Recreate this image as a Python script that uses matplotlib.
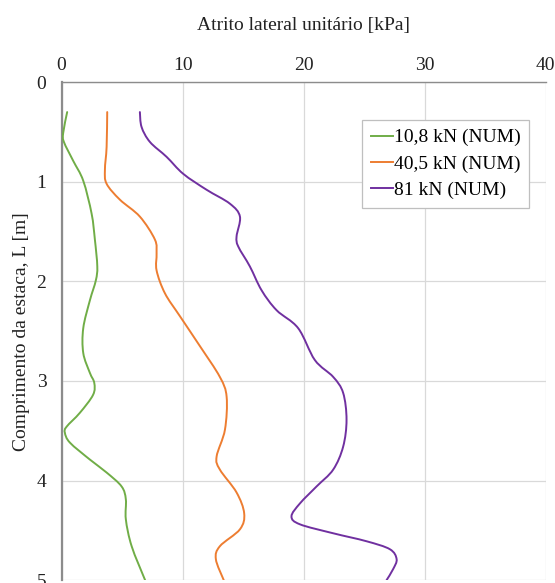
import matplotlib
matplotlib.use("Agg")
import matplotlib.pyplot as plt
from matplotlib.path import Path
from matplotlib.patches import PathPatch
from matplotlib.lines import Line2D

plt.rcParams['font.family'] = ['Liberation Serif', 'DejaVu Serif']

# Depth along the pile [m] and unit skin friction [kPa] for each load level
depth_10 = [0.30, 0.51, 0.60, 0.79, 0.99, 1.32, 1.58, 1.85, 1.99, 2.19, 2.47, 2.72,
            2.92, 3.02, 3.14, 3.32, 3.46, 3.52, 3.62, 3.79, 3.92, 4.06, 4.19, 4.39,
            4.66, 5.00]
fric_10 = [0.46, 0.13, 0.19, 0.96, 1.79, 2.48, 2.75, 2.95, 2.83, 2.34, 1.79, 1.79,
           2.34, 2.70, 2.60, 1.51, 0.41, 0.27, 0.69, 2.34, 3.72, 4.96, 5.31, 5.31,
           5.79, 6.90]

depth_40 = [0.30, 0.65, 0.88, 1.02, 1.18, 1.35, 1.58, 1.72, 1.89, 2.12, 2.35, 2.65,
            2.96, 3.16, 3.49, 3.76, 3.89, 4.12, 4.33, 4.49, 4.66, 4.79, 5.00]
fric_40 = [3.77, 3.72, 3.58, 3.72, 4.82, 6.47, 7.71, 7.85, 7.85, 8.54, 9.78, 11.43,
           13.08, 13.64, 13.50, 12.81, 13.08, 14.46, 15.09, 14.74, 13.08, 12.75, 13.40]

depth_81 = [0.30, 0.45, 0.60, 0.75, 0.92, 1.08, 1.22, 1.35, 1.55, 1.65, 1.85, 2.09,
            2.29, 2.47, 2.79, 2.96, 3.12, 3.39, 3.66, 3.89, 4.06, 4.23, 4.36, 4.44,
            4.53, 4.61, 4.69, 4.79, 4.89, 5.00]
fric_81 = [6.47, 6.61, 7.30, 8.68, 10.05, 11.98, 13.91, 14.74, 14.46, 14.60, 15.56,
           16.53, 17.77, 19.55, 20.93, 22.45, 23.27, 23.55, 23.27, 22.45, 21.07, 19.70,
           19.00, 19.70, 22.45, 25.20, 27.13, 27.69, 27.40, 26.86]

series_labels = ['10,8 kN (NUM)', '40,5 kN (NUM)', '81 kN (NUM)']
series_colors = ['#70AD47', '#ED7D31', '#7030A0']

x_ticks = [0, 10, 20, 30, 40]
y_ticks = [0, 1, 2, 3, 4, 5]


def smooth_path(xs, ys):
    """Smoothed (Catmull-Rom style) Bezier path through the given points."""
    pts = list(zip(xs, ys))
    n = len(pts)
    verts = [pts[0]]
    codes = [Path.MOVETO]
    for i in range(n - 1):
        p0 = pts[max(i - 1, 0)]
        p1 = pts[i]
        p2 = pts[i + 1]
        p3 = pts[min(i + 2, n - 1)]
        c1 = (p1[0] + (p2[0] - p0[0]) / 6.0, p1[1] + (p2[1] - p0[1]) / 6.0)
        c2 = (p2[0] - (p3[0] - p1[0]) / 6.0, p2[1] - (p3[1] - p1[1]) / 6.0)
        verts += [c1, c2, p2]
        codes += [Path.CURVE4] * 3
    return Path(verts, codes)


fig = plt.figure(figsize=(5.55, 5.83), dpi=100)
ax = fig.add_axes([0.111, 0.005, 0.872, 0.854])

handles = []
for xs, ys, lab, col in zip([fric_10, fric_40, fric_81],
                            [depth_10, depth_40, depth_81],
                            series_labels, series_colors):
    patch = PathPatch(smooth_path(xs, ys), fill=False, edgecolor=col, lw=1.4,
                      capstyle='round', joinstyle='round', zorder=3)
    ax.add_patch(patch)
    handles.append(Line2D([], [], color=col, lw=1.4, label=lab))

ax.set_xlim(0, 40)
ax.set_ylim(5, 0)
ax.set_xticks(x_ticks)
ax.set_yticks(y_ticks)
ax.xaxis.tick_top()
ax.xaxis.set_label_position('top')
ax.tick_params(axis='both', length=0, labelsize=14, colors='#222222')
ax.tick_params(axis='x', pad=6)
ax.tick_params(axis='y', pad=11)

ax.grid(True, color='#D9D9D9', lw=0.9)
ax.set_axisbelow(True)
for side in ['right', 'bottom']:
    ax.spines[side].set_visible(False)
ax.spines['left'].set_color('#8C8C8C')
ax.spines['left'].set_linewidth(1.6)
ax.spines['top'].set_color('#8C8C8C')
ax.spines['top'].set_linewidth(1.0)

ax.set_xlabel('Atrito lateral unitário [kPa]', fontsize=14, labelpad=19, color='#222222')
ax.set_ylabel('Comprimento da estaca, L [m]', fontsize=14, labelpad=5, color='#222222')

leg = ax.legend(handles=handles, loc='upper right', bbox_to_anchor=(0.966, 0.924),
                fontsize=14, frameon=True, fancybox=False, handlelength=1.1,
                handletextpad=0.05, borderpad=0.45, labelspacing=0.45,
                borderaxespad=0, framealpha=1)
leg.get_frame().set_edgecolor('#BFBFBF')
leg.get_frame().set_linewidth(0.9)

fig.savefig('out.png', dpi=100)
